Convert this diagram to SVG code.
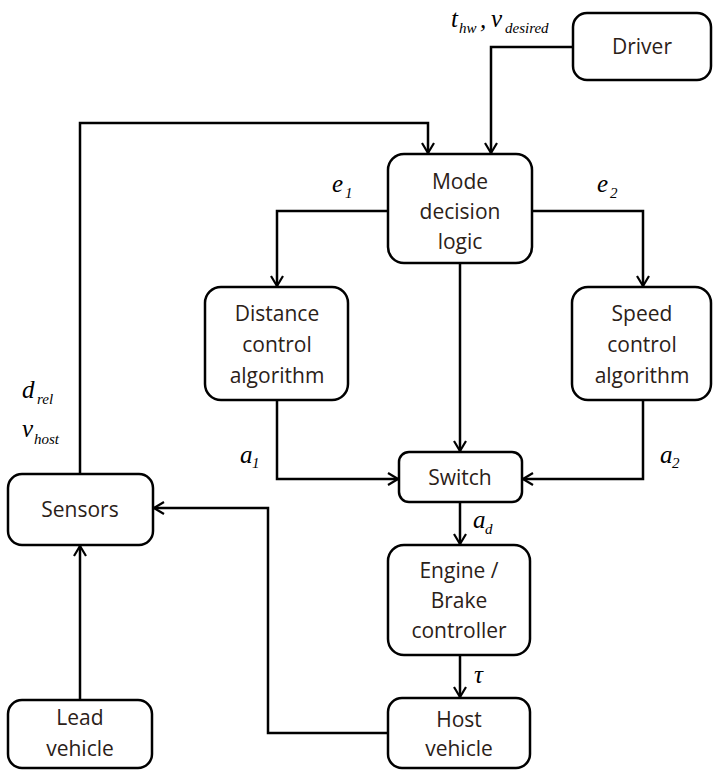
<svg xmlns="http://www.w3.org/2000/svg" width="713" height="770" viewBox="0 0 713 770">
<defs>
<style>
.box{fill:#fff;stroke:#000;stroke-width:2.5}
.lbl{font-family:"Open Sans","Liberation Sans",sans-serif;font-size:21px;fill:#2b2118;text-anchor:middle}
.m{font-family:"Liberation Serif",serif;font-style:italic;font-size:25px;fill:#000}
.s{font-family:"Liberation Serif",serif;font-style:italic;font-size:15px;fill:#000}
.c{fill:none;stroke:#000;stroke-width:2.5}
</style>
<marker id="ah" viewBox="0 0 12 14" refX="11" refY="7" markerWidth="12" markerHeight="14" markerUnits="userSpaceOnUse" orient="auto">
<path d="M1,1 L11,7 L1,13" fill="none" stroke="#000" stroke-width="2.2"/>
</marker>
</defs>
<rect width="713" height="770" fill="#fff"/>
<g id="connectors">
<path class="c" d="M573,47 H491 V153" marker-end="url(#ah)"/>
<path class="c" d="M80,474 V123 H428 V153" marker-end="url(#ah)"/>
<path class="c" d="M388,211 H277 V286" marker-end="url(#ah)"/>
<path class="c" d="M532,211 H643 V286" marker-end="url(#ah)"/>
<path class="c" d="M460,263 V451" marker-end="url(#ah)"/>
<path class="c" d="M277,400 V479 H398" marker-end="url(#ah)"/>
<path class="c" d="M643,400 V479 H523" marker-end="url(#ah)"/>
<path class="c" d="M460,502 V544" marker-end="url(#ah)"/>
<path class="c" d="M460,655 V697" marker-end="url(#ah)"/>
<path class="c" d="M388,733 H268 V508 H154" marker-end="url(#ah)"/>
<path class="c" d="M80,700 V546" marker-end="url(#ah)"/>
</g>
<g id="driver"><rect class="box" x="573" y="13" width="138" height="67" rx="14"/><text class="lbl" x="642" y="54">Driver</text></g>
<g id="mode"><rect class="box" x="388" y="154" width="144" height="109" rx="16"/><text class="lbl" x="460" y="189">Mode</text><text class="lbl" x="460" y="219">decision</text><text class="lbl" x="460" y="249">logic</text></g>
<g id="distance"><rect class="box" x="205" y="287" width="143" height="113" rx="16"/><text class="lbl" x="277" y="321">Distance</text><text class="lbl" x="277" y="352">control</text><text class="lbl" x="277" y="383">algorithm</text></g>
<g id="speed"><rect class="box" x="572" y="287" width="139" height="113" rx="16"/><text class="lbl" x="642" y="321">Speed</text><text class="lbl" x="642" y="352">control</text><text class="lbl" x="642" y="383">algorithm</text></g>
<g id="switch"><rect class="box" x="399" y="452" width="123" height="50" rx="10"/><text class="lbl" x="460" y="485">Switch</text></g>
<g id="engine"><rect class="box" x="388" y="545" width="142" height="110" rx="16"/><text class="lbl" x="459" y="578">Engine /</text><text class="lbl" x="459" y="608">Brake</text><text class="lbl" x="459" y="638">controller</text></g>
<g id="host"><rect class="box" x="388" y="698" width="142" height="70" rx="14"/><text class="lbl" x="459" y="727">Host</text><text class="lbl" x="459" y="756">vehicle</text></g>
<g id="sensors"><rect class="box" x="8" y="474" width="145" height="71" rx="14"/><text class="lbl" x="80" y="517">Sensors</text></g>
<g id="lead"><rect class="box" x="8" y="700" width="144" height="68" rx="14"/><text class="lbl" x="80" y="725">Lead</text><text class="lbl" x="80" y="756">vehicle</text></g>
<g id="labels">
<text class="m" x="451" y="27">t</text><text class="s" x="459" y="33">hw</text><text class="m" x="480" y="28">,</text><text class="m" x="491" y="27">v</text><text class="s" x="505" y="33">desired</text>
<text class="m" x="332" y="192">e</text><text class="s" x="345" y="198">1</text>
<text class="m" x="597" y="192">e</text><text class="s" x="610" y="198">2</text>
<text class="m" x="240" y="463">a</text><text class="s" x="252" y="468">1</text>
<text class="m" x="660" y="463">a</text><text class="s" x="672" y="468">2</text>
<text class="m" x="473" y="528">a</text><text class="s" x="485" y="534">d</text>
<text class="m" x="474" y="683">τ</text>
<text class="m" x="22" y="398">d</text><text class="s" x="37" y="404">rel</text>
<text class="m" x="22" y="437">v</text><text class="s" x="34" y="444">host</text>
</g>
</svg>
